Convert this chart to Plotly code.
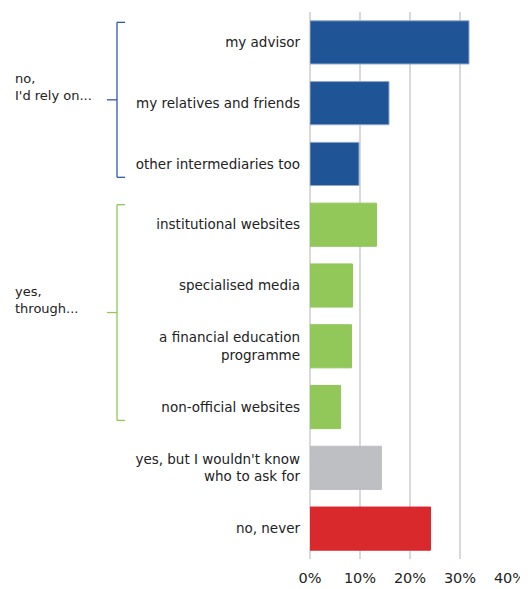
import plotly.graph_objects as go

categories = [
    "my advisor",
    "my relatives and friends",
    "other intermediaries too",
    "institutional websites",
    "specialised media",
    "a financial education<br>programme",
    "non-official websites",
    "yes, but I wouldn't know<br>who to ask for",
    "no, never",
]
values = [31.8, 15.8, 9.8, 13.3, 8.5, 8.3, 6.1, 14.3, 24.1]
bar_colors = ["#1F5597", "#1F5597", "#1F5597",
              "#92C75A", "#92C75A", "#92C75A", "#92C75A",
              "#BEBFC3", "#D9292C"]
line_colors = ["#8EA8CC", "#8EA8CC", "#8EA8CC",
               "#92C75A", "#92C75A", "#92C75A", "#92C75A",
               "#BEBFC3", "#D9292C"]
x_ticks = [0, 10, 20, 30, 40]
x_ticktext = ["0%", "10%", "20%", "30%", "40%"]

groups = [
    {"label": "no,<br>I'd rely on...", "first": 0, "last": 2, "color": "#2E5C9E"},
    {"label": "yes,<br>through...", "first": 3, "last": 6, "color": "#92C75A"},
]

FONT = "DejaVu Sans"
TEXT = "#222222"

fig = go.Figure(go.Bar(
    x=values, y=categories, orientation="h",
    marker=dict(color=bar_colors, line=dict(color=line_colors, width=1)),
    hoverinfo="skip",
))

shapes = []
annotations = []
x_line = -0.965
x_tail_r = -0.925
x_tail_l = -1.015
for g in groups:
    top = g["first"] - 0.33
    bot = g["last"] + 0.22
    mid = (top + bot) / 2
    ln = dict(color=g["color"], width=1.3)
    shapes += [
        dict(type="line", xref="paper", yref="y", x0=x_line, x1=x_line, y0=top, y1=bot, line=ln),
        dict(type="line", xref="paper", yref="y", x0=x_line, x1=x_tail_r, y0=top, y1=top, line=ln),
        dict(type="line", xref="paper", yref="y", x0=x_line, x1=x_tail_r, y0=bot, y1=bot, line=ln),
        dict(type="line", xref="paper", yref="y", x0=x_tail_l, x1=x_line, y0=mid, y1=mid, line=ln),
    ]
    annotations.append(dict(
        text=g["label"], xref="paper", yref="y", x=-1.485, y=mid,
        xanchor="left", yanchor="middle", yshift=13, showarrow=False, align="left",
        font=dict(family=FONT, size=13, color=TEXT),
    ))

# the page body has an 8px margin, so the figure is 8px smaller on each axis
fig.update_layout(
    width=520, height=581,
    margin=dict(l=302, r=18, t=4, b=30, autoexpand=False),
    paper_bgcolor="white", plot_bgcolor="white",
    bargap=0.29,
    showlegend=False,
    shapes=shapes,
    annotations=annotations,
    font=dict(family=FONT, color=TEXT),
)
fig.update_xaxes(
    range=[0, 40], tickvals=x_ticks, ticktext=x_ticktext, automargin=False,
    showgrid=True, gridcolor="#D9D9D9", gridwidth=1.5,
    zeroline=True, zerolinecolor="#D9D9D9", zerolinewidth=1.5,
    showline=False, ticks="", ticklabelstandoff=8,
    tickfont=dict(family=FONT, size=14.5, color=TEXT),
)
fig.update_yaxes(
    type="category", categoryorder="array", categoryarray=categories,
    range=[8.5, -0.5], showgrid=False, zeroline=False, showline=False,
    ticks="", ticklabelstandoff=9, automargin=False,
    tickfont=dict(family=FONT, size=13.5, color=TEXT),
)

fig.write_html("out.html")
